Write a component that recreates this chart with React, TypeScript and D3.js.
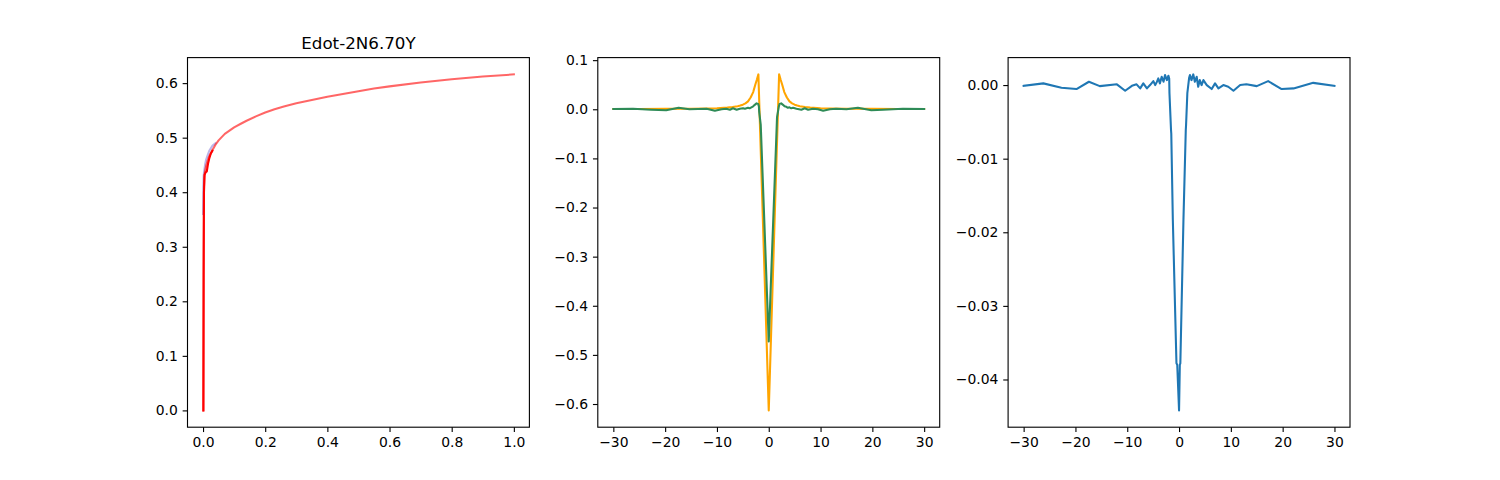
import React, {useRef, useEffect} from 'react';
import * as d3 from 'd3';

// ---- panel 1: Edot curves ----
const salmonX = [0, 0.001, 0.002, 0.003, 0.004, 0.006, 0.008, 0.01, 0.015, 0.02, 0.03, 0.04, 0.05, 0.06, 0.07, 0.085, 0.1, 0.12, 0.14, 0.17, 0.2, 0.23, 0.26, 0.3, 0.35, 0.4, 0.45, 0.5, 0.55, 0.6, 0.7, 0.8, 0.9, 1.0];
const salmonY = [0, 0.14, 0.3, 0.41, 0.428, 0.437, 0.443, 0.448, 0.458, 0.466, 0.477, 0.487, 0.495, 0.501, 0.507, 0.513, 0.519, 0.525, 0.531, 0.539, 0.546, 0.552, 0.557, 0.563, 0.569, 0.575, 0.58, 0.585, 0.59, 0.594, 0.601, 0.607, 0.612, 0.616];
const redX = [0.0015, 0.002, 0.003, 0.005, 0.008, 0.012, 0.016, 0.02, 0.025, 0.03];
const redY = [0.0, 0.25, 0.4, 0.432, 0.436, 0.438, 0.452, 0.462, 0.471, 0.476];
const purpleX = [0, 0.001, 0.002, 0.004, 0.007, 0.01, 0.015, 0.02, 0.03, 0.04];
const purpleY = [0.36, 0.41, 0.43, 0.44, 0.452, 0.46, 0.468, 0.476, 0.485, 0.49];

// ---- panel 2: orange reference, green estimate ----
const orangeX = [-30, -25, -20, -17, -15, -12, -10, -8, -7, -6, -5.5, -5, -4.5, -4, -3.5, -3, -2.6, -2.3, -2.0, 0, 2.0, 2.3, 2.6, 3, 3.5, 4, 4.5, 5, 5.5, 6, 7, 8, 10, 12, 15, 17, 20, 25, 30];
const orangeY = [0.0005, 0.0006, 0.0008, 0.001, 0.0011, 0.0016, 0.0022, 0.0035, 0.0046, 0.0063, 0.0076, 0.0094, 0.012, 0.016, 0.024, 0.035, 0.05, 0.06, 0.071, -0.613, 0.071, 0.06, 0.05, 0.035, 0.024, 0.016, 0.012, 0.0094, 0.0076, 0.0063, 0.0046, 0.0035, 0.0022, 0.0016, 0.0011, 0.001, 0.0008, 0.0006, 0.0005];

// shared sampling grid for the green curve and the difference curve
const gridX = [-30, -26.2, -22.7, -19.8, -17.4, -15.3, -12.0, -10.4, -9.1, -8.2, -7.5, -6.9, -6.2, -5.6, -4.96, -4.6, -4.3, -4.0, -3.7, -3.35, -3.0, -2.7, -2.35, -2.05, -1.9, -1.85, -1.55, -1.5, -1.2, -0.5, -0.35, 0, 0.15, 0.25, 0.85, 1.3, 1.35, 1.6, 1.95, 2.1, 2.4, 2.75, 3.05, 3.4, 3.7, 4.0, 4.35, 4.7, 5.35, 6.3, 6.95, 7.6, 8.55, 9.5, 10.5, 11.8, 13.0, 15.0, 17.2, 19.8, 22.1, 25.9, 30];
const greenY = [0.0005, 0.001, -0.001, -0.002, 0.003, 0, 0.001, -0.003, 0, 0.001, -0.001, 0.002, -0.001, 0.001, 0.002, 0.001, 0.002, 0.003, 0.002, 0.004, 0.006, 0.009, 0.012, 0.011, 0.006, -0.005, -0.031, -0.045, -0.13, -0.33, -0.373, -0.4725, -0.43, -0.401, -0.23, -0.102, -0.088, -0.016, 0.006, 0.011, 0.012, 0.009, 0.006, 0.005, 0.003, 0.004, 0.002, 0.003, 0.001, -0.001, 0.002, -0.001, 0.001, 0, -0.003, 0, 0.001, 0, 0.003, -0.002, -0.001, 0.001, 0.0005];

// ---- panel 3: difference ----
const diffY = [-0.0001, 0.00023, -0.00036, -0.00054, 0.00045, -0.00014, 0.0001, -0.00077, -0.0001, 0.0001, -0.00045, 0.00023, -0.00045, 0, 0.00054, 0, 0.0004, 0.0009, 0.00023, 0.00113, 0.00045, 0.00136, 0.00068, 0.00127, 0.0009, -0.0011, -0.0061, -0.0066, -0.0183, -0.0378, -0.038, -0.0442, -0.038, -0.0378, -0.0183, -0.0061, -0.0055, -0.0011, 0.001, 0.00136, 0.00068, 0.00145, 0.00045, 0.00113, -0.00023, 0.00068, 0, 0.00068, 0, -0.00054, 0.00023, -0.00045, 0, -0.00023, -0.00077, 0, 0.0001, -0.00014, 0.00054, -0.00054, -0.00045, 0.0003, -0.0001];

// ---- ticks ----
const p1XTicks = [0, 0.2, 0.4, 0.6, 0.8, 1.0];
const p1YTicks = [0, 0.1, 0.2, 0.3, 0.4, 0.5, 0.6];
const symXTicks = [-30, -20, -10, 0, 10, 20, 30];
const p2YTicks = [0.1, 0, -0.1, -0.2, -0.3, -0.4, -0.5, -0.6];
const p3YTicks = [0, -0.01, -0.02, -0.03, -0.04];

const title = 'Edot-2N6.70Y';

// figure geometry (matplotlib defaults at 100 dpi)
const FIG_W = 1500;
const FIG_H = 480;
const AX_TOP = 57.6;
const AX_BOTTOM = 427.2;
const AX_W = 341.9;
const AX_LEFT = [187.5, 597.8, 1008.1];
const LW = 2.08;
const TICK = 4.86;
const FONT = 'DejaVu Sans, sans-serif';

interface Series {
    x: number[];
    y: number[];
    color: string;
    opacity?: number;
}

const minus = (s: string) => s.replace('-', '\u2212');

const App: React.FC = () => {
    const svgRef = useRef<SVGSVGElement>(null);

    useEffect(() => {
        if (!svgRef.current) return;
        const svg = d3.select(svgRef.current);
        svg.selectAll('*').remove();

        svg.append('rect').attr('width', FIG_W).attr('height', FIG_H).attr('fill', '#fff');

        const panel = (
            idx: number,
            series: Series[],
            xTicks: number[],
            yTicks: number[],
            fmtX: (v: number) => string,
            fmtY: (v: number) => string,
            label?: string
        ) => {
            const left = AX_LEFT[idx];
            const allX = series.flatMap(s => s.x);
            const allY = series.flatMap(s => s.y);
            const [x0, x1] = d3.extent(allX) as [number, number];
            const [y0, y1] = d3.extent(allY) as [number, number];
            const px = (x1 - x0) * 0.05;
            const py = (y1 - y0) * 0.05;

            const x = d3.scaleLinear().domain([x0 - px, x1 + px]).range([left, left + AX_W]);
            const y = d3.scaleLinear().domain([y0 - py, y1 + py]).range([AX_BOTTOM, AX_TOP]);

            const g = svg.append('g');

            // 曲線
            series.forEach(s => {
                const pts = s.x.map((v, i) => [v, s.y[i]] as [number, number]);
                const gen = d3.line<[number, number]>().x(d => x(d[0])).y(d => y(d[1]));
                g.append('path')
                    .attr('d', gen(pts) as string)
                    .attr('fill', 'none')
                    .attr('stroke', s.color)
                    .attr('stroke-opacity', s.opacity ?? 1)
                    .attr('stroke-width', LW)
                    .attr('stroke-linejoin', 'round')
                    .attr('stroke-linecap', 'square');
            });

            const xAxis = g.append('g')
                .attr('transform', `translate(0,${AX_BOTTOM})`)
                .call(d3.axisBottom(x).tickValues(xTicks).tickSize(TICK).tickPadding(4.86).tickFormat(v => minus(fmtX(v as number))));
            const yAxis = g.append('g')
                .attr('transform', `translate(${left},0)`)
                .call(d3.axisLeft(y).tickValues(yTicks).tickSize(TICK).tickPadding(4.86).tickFormat(v => minus(fmtY(v as number))));

            [xAxis, yAxis].forEach(a => {
                a.select('.domain').remove();
                a.attr('font-family', FONT).attr('font-size', 13.9);
                a.selectAll('line').attr('stroke', '#000').attr('stroke-width', 1.11);
                a.selectAll('text').attr('fill', '#000');
            });

            // 邊框
            g.append('rect')
                .attr('x', left)
                .attr('y', AX_TOP)
                .attr('width', AX_W)
                .attr('height', AX_BOTTOM - AX_TOP)
                .attr('fill', 'none')
                .attr('stroke', '#000')
                .attr('stroke-width', 1.11);

            if (label) {
                g.append('text')
                    .attr('x', left + AX_W / 2)
                    .attr('y', AX_TOP - 8.3)
                    .attr('text-anchor', 'middle')
                    .attr('font-family', FONT)
                    .attr('font-size', 16.7)
                    .attr('fill', '#000')
                    .text(label);
            }
        };

        panel(0, [
            {x: purpleX, y: purpleY, color: '#6a5acd', opacity: 0.45},
            {x: redX, y: redY, color: '#ff0000'},
            {x: salmonX, y: salmonY, color: '#ff0000', opacity: 0.6},
        ], p1XTicks, p1YTicks, v => v.toFixed(1), v => v.toFixed(1), title);

        panel(1, [
            {x: orangeX, y: orangeY, color: '#ffa500'},
            {x: gridX, y: greenY, color: '#2e8b57'},
        ], symXTicks, p2YTicks, v => String(v), v => v.toFixed(1));

        panel(2, [
            {x: gridX, y: diffY, color: '#1f77b4'},
        ], symXTicks, p3YTicks, v => String(v), v => v.toFixed(2));
    }, []);

    return (
        <svg
            ref={svgRef}
            width={FIG_W}
            height={FIG_H}
            viewBox={`0 0 ${FIG_W} ${FIG_H}`}
            style={{position: 'absolute', left: 0, top: 0}}
        />
    );
};

export default App;
